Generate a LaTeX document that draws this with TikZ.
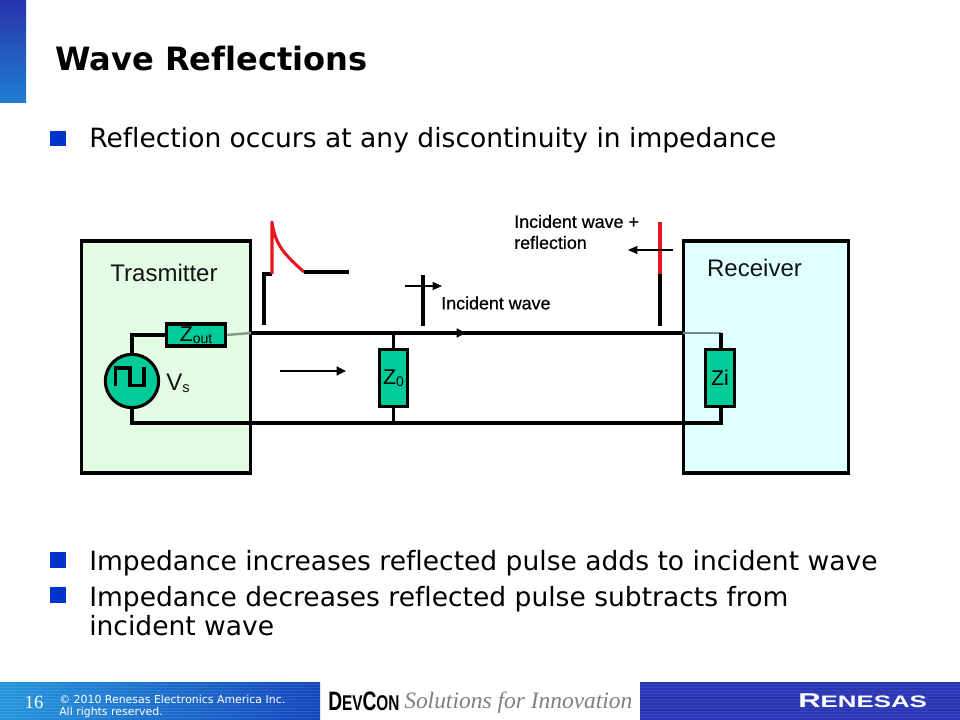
\documentclass[tikz,border=0pt]{standalone}
\usepackage{fontspec}
\usepackage{graphicx}
\setmainfont[Ligatures=NoCommon]{DejaVu Sans}
\newfontfamily\lib{Liberation Sans}
\newfontfamily\libfb[FakeBold=0.6]{Liberation Sans}
\newfontfamily\libs{Liberation Serif}
\usetikzlibrary{arrows.meta}
\definecolor{tgreen}{HTML}{E4FCE4}
\definecolor{rblue}{HTML}{E0FFFF}
\definecolor{comp}{HTML}{00CC99}
\definecolor{bul}{HTML}{0033CC}
\definecolor{wred}{HTML}{E8141E}
\definecolor{footL}{HTML}{2496DC}
\definecolor{footR}{HTML}{1446BC}
\definecolor{footB}{HTML}{2A36B4}
\definecolor{fadeT}{HTML}{7F9A85}
\definecolor{fadeR}{HTML}{6F8A90}
\tikzset{
 x=0.75pt,y=-0.75pt,
 block/.style={draw=black,line width=2.3pt,minimum width=126pt,minimum height=174pt,inner sep=0pt},
 comp/.style={draw=black,line width=2.3pt,fill=comp,inner sep=0pt,text=black,font=\lib\fontsize{16}{16}\selectfont},
 wire/.style={draw=black,line width=2.4pt},
 fade/.style={line width=1.8pt},
 arr/.style={draw=black,line width=1.7pt,-{Triangle[length=7pt,width=6.5pt]}},
 thinarr/.style={draw=black,line width=1pt,-{Triangle[length=7pt,width=6pt]}},
 pulse/.style={line width=2.3pt},
 lab/.style={inner sep=0pt,anchor=west,align=left},
 body/.style={lab,font=\fontsize{19.9}{21.75}\selectfont},
 bulletbox/.style={fill=bul,minimum size=11.5pt,inner sep=0pt},
 dlab/.style={inner sep=0pt,text=black!92,font=\lib\fontsize{18}{18}\selectfont},
 slab/.style={lab,font=\libfb\fontsize{13.4}{15.8}\selectfont},
}
\begin{document}
\begin{tikzpicture}
\useasboundingbox (0,0) rectangle (960,720);
\fill[white] (0,0) rectangle (960,720);
% corner tab
\shade[top color=footB!95!black,bottom color=footL!70!footR] (0,0) rectangle (26,103);
% title + bullets
\node[lab,font=\bfseries\fontsize{24.1}{28}\selectfont] (title) at (55,58.5) {Wave Reflections};
\node[bulletbox] (b1) at (58,138.5) {};
\node[body] (t1) at (89,140.5) {Reflection occurs at any discontinuity in impedance};
\node[bulletbox] (b2) at (58,560) {};
\node[body] (t2) at (89,563) {Impedance increases reflected pulse adds to incident wave};
\node[bulletbox] (b3) at (58,595) {};
\node[body,anchor=north west] (t3) at (89,586) {Impedance decreases reflected pulse subtracts from\\incident wave};
% blocks
\node[block,fill=tgreen,minimum width=126.5pt] (tx) at (166,357) {};
\node[block,fill=rblue,minimum width=123.5pt] (rx) at (766,357) {};
\node[dlab,anchor=center] (txl) at (164,273) {Trasmitter};
\node[dlab,anchor=center] (rxl) at (754.5,268) {Receiver};
% components
\node[comp,minimum width=44pt,minimum height=16.5pt] (zout) at (196,335) {Z\raisebox{-1.5pt}{\fontsize{10.5}{10.5}\selectfont out}};
\node[comp,minimum width=21pt,minimum height=43pt] (z0) at (393.5,378) {Z\raisebox{-1.5pt}{\fontsize{10.5}{10.5}\selectfont 0}};
\node[comp,minimum width=22pt,minimum height=43pt] (zi) at (720,378) {Zi};
\node[comp,circle,minimum size=40pt] (vs) at (132,381) {};
\node[dlab,anchor=west] (vsl) at (166,383) {V\raisebox{-1.5pt}{\fontsize{11}{11}\selectfont s}};
% wire corners
\coordinate (txe) at (251,333);
\coordinate (rxe) at (683,333);
\coordinate (tr) at (721,333);
\coordinate (br) at (721,423);
\coordinate (jt) at (393.5,333);
\coordinate (jb) at (393.5,423);
\draw[wire] (vs.north) |- (zout.west);
\draw[fade,fadeT] (zout.east) -- (txe);
\draw[wire] (txe) -- (jt) -- (rxe);
\draw[fade,fadeR] (rxe) -- (tr);
\draw[wire] (tr) -- (zi.north -| tr);
\draw[wire] (vs.south) |- (jb) -- (br) -- (zi.south -| br);
\draw[wire] (jt) -- (z0.north);
\draw[wire] (z0.south) -- (jb);
% wire direction arrow
\coordinate (wa1) at (450,333);
\coordinate (wa2) at (466,333);
\draw[arr] (wa1) -- (wa2);
\coordinate (p1) at (280,371);
\coordinate (p2) at (346,371);
\draw[arr] (p1) -- (p2);
% launched pulse
\draw[pulse] (264,325) -- (264,274) -- (272,274);
\draw[pulse,wred,line join=round] (272,274) -- (272,222) .. controls (275,245) and (285,255) .. (304,272);
\draw[pulse] (304,272) -- (349,272);
% incident tick
\draw[pulse] (423,326) -- (423,275);
\coordinate (a1) at (405,286);
\coordinate (a2) at (442,286);
\draw[thinarr] (a1) -- (a2);
\node[slab] (inc) at (441,303) {Incident wave};
% reflection tick
\draw[pulse] (660,326) -- (660,274);
\draw[pulse,wred] (660,274) -- (660,222);
\coordinate (r1) at (673,250);
\coordinate (r2) at (628,250);
\draw[thinarr] (r1) -- (r2);
\node[slab] (refl) at (514,232) {Incident wave +\\reflection};
% square wave glyph
\draw[line width=2.3pt,line join=miter] (115.7,386) -- (115.7,368) -- (130,368) -- (130,385.5) -- (144,385.5) -- (144,367);
% footer
\shade[left color=footL,right color=footR] (0,682) rectangle (320,720);
\fill[footB] (640,682) rectangle (960,720);
\foreach \yy in {684,687,...,720}{
  \draw[white,opacity=.10,line width=.6pt] (0,\yy) -- (320,\yy);
  \draw[white,opacity=.07,line width=.6pt] (640,\yy) -- (960,\yy);
}
\node[inner sep=0pt,text=white,font=\libs\fontsize{14}{14}\selectfont] (pg) at (34,702) {16};
\node[inner sep=0pt,anchor=north west,align=left,text=white,font=\fontsize{8.2}{9.3}\selectfont] (copy) at (59,695) {© 2010 Renesas Electronics America Inc.\\All rights reserved.};
\node[lab,font=\lib\bfseries,text=black] (dev) at (328,701) {\scalebox{.72}[1]{\fontsize{20}{20}\selectfont D\fontsize{16}{16}\selectfont EV\fontsize{20}{20}\selectfont C\fontsize{16}{16}\selectfont ON}};
\node[lab,font=\libs\itshape\fontsize{17.6}{17.6}\selectfont,text=black!50] (sol) at (404,703) {Solutions for Innovation};
\node[lab,font=\lib\bfseries,text=white] (ren) at (798,701) {\scalebox{1.55}[1]{\fontsize{15}{15}\selectfont R\fontsize{12.5}{12.5}\selectfont ENESAS}};
\end{tikzpicture}
\end{document}
